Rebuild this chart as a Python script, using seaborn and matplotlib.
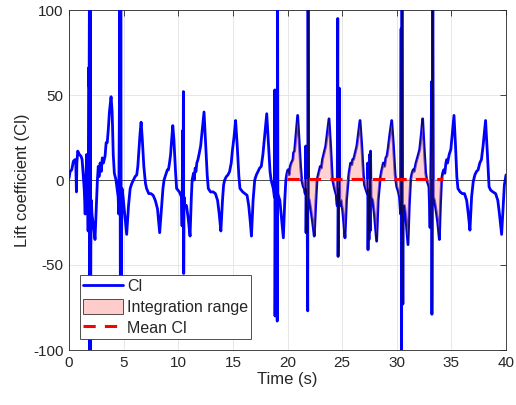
import numpy as np
import pandas as pd
import matplotlib
matplotlib.use("Agg")
import matplotlib.pyplot as plt
import seaborn as sns
from matplotlib.patches import Patch
from matplotlib.lines import Line2D

# ---- data ----
time_s = [
    0.0, 0.1, 0.25, 0.4, 0.55, 0.62, 0.68, 0.72, 0.8, 0.95, 1.1, 1.2, 1.3, 1.4, 1.48, 1.55, 1.62,
    1.7, 1.75, 1.8, 1.84, 1.88, 1.91, 1.94, 1.97, 2.0, 2.05, 2.1, 2.2, 2.3, 2.38, 2.5, 2.6, 2.68,
    2.75, 2.85, 2.95, 3.05, 3.15, 3.3, 3.4, 3.5, 3.6, 3.7, 3.85, 3.95, 4.05, 4.15, 4.3, 4.4, 4.5,
    4.55, 4.62, 4.66, 4.7, 4.74, 4.78, 4.85, 4.95, 5.1, 5.28,
    5.45, 5.6, 5.75, 5.9, 6.05, 6.2, 6.3, 6.4, 6.5, 6.6, 6.7, 6.85, 7.0, 7.1, 7.3, 7.5, 7.7, 7.9,
    8.1, 8.2, 8.3, 8.45, 8.6, 8.7, 8.85, 9.0, 9.1, 9.2, 9.3, 9.4, 9.5, 9.6, 9.75, 9.85, 10.1, 10.3,
    10.35, 10.4, 10.44, 10.47, 10.5, 10.53, 10.6, 10.75, 10.9, 11.08, 11.2, 11.27, 11.4, 11.45,
    11.55, 11.62, 11.7, 11.8, 11.9, 12.05, 12.2, 12.36, 12.5, 12.65, 12.75, 12.95, 13.2, 13.4,
    13.6, 13.75, 13.9, 14.05, 14.15, 14.25, 14.4, 14.55, 14.7, 14.85, 14.95, 15.1, 15.25, 15.4,
    15.55, 15.65, 15.9, 16.1, 16.3, 16.45, 16.6, 16.7, 16.85, 17.0, 17.15, 17.3, 17.45, 17.6,
    17.75, 17.9, 18.1, 18.25, 18.4, 18.5, 18.7, 18.8, 18.84, 18.86, 18.9, 18.95, 19.02, 19.06,
    19.09, 19.12, 19.2, 19.3, 19.45, 19.62, 19.75, 19.85, 19.95, 20.05, 20.15, 20.25, 20.35,
    20.5, 20.55, 20.65, 20.8, 20.93, 21.05, 21.2, 21.3, 21.45, 21.55, 21.62, 21.67, 21.7, 21.74,
    21.8, 21.85, 21.88, 21.92, 22.0, 22.15, 22.3, 22.45, 22.6, 22.7, 22.85, 23.0, 23.1, 23.2,
    23.35, 23.5, 23.65, 23.8, 23.95, 24.1, 24.3, 24.47, 24.55, 24.6, 24.63, 24.67, 24.72, 24.75,
    24.79, 24.9, 25.05, 25.15, 25.26, 25.4, 25.56, 25.65, 25.78, 25.9, 25.96, 26.05, 26.2, 26.35,
    26.5, 26.64, 26.8, 26.95, 27.05, 27.2, 27.3, 27.34, 27.37, 27.42, 27.46, 27.52, 27.56, 27.6,
    27.65, 27.8, 27.95, 28.05, 28.16, 28.3, 28.47, 28.6, 28.77, 28.9, 29.0, 29.1, 29.2, 29.35,
    29.54, 29.7, 29.85, 30.0, 30.15, 30.25, 30.35, 30.4, 30.44, 30.48, 30.52, 30.56, 30.6, 30.7,
    30.8, 30.9, 31.03, 31.15, 31.27, 31.4, 31.5, 31.6, 31.76, 31.85, 31.98, 32.1, 32.25, 32.37,
    32.5, 32.65, 32.75, 32.95, 33.05, 33.1, 33.2, 33.22, 33.25, 33.3, 33.35, 33.45, 33.6, 33.75,
    33.9, 34.0, 34.1, 34.2, 34.3, 34.4, 34.5, 34.57, 34.65, 34.8, 34.95, 35.1, 35.24, 35.38, 35.5,
    35.6, 35.8, 36.0, 36.2, 36.4, 36.55, 36.7, 36.85, 37.0, 37.15, 37.3, 37.45, 37.6, 37.75, 37.9,
    38.13, 38.3, 38.45, 38.6, 38.8, 39.05, 39.15, 39.25, 39.4, 39.6, 39.75, 39.85, 40.0,
]
lift_cl = [
    1, 5, 6, 11, 12, 10, -7, 10, 17, 15, 14, 12, 3, -6, -20, 2, 15,
    5, -30, 66, 55, 130, -130, 120, -130, -40, -12, -20, -25, -30, -35, -15, 0, 8,
    2, 10, 5, 13, 10, 14, 22, 22, 30, 40, 49, 40, 15, 4, 0, -5, -10,
    -20, 50, 130, -80, 130, -60, -5, -10, -20, -32,
    -15, -5, -2, 0, 2, 3, 8, 18, 27, 34, 25, 8, -2, -5, -8, -8, -9, -12,
    -17, -24, -31, -18, -5, 0, 3, 6, 6, 10, 15, 24, 32, 24, 5, -5, -7, -10,
    -27, 29, -20, 52, -55, -10, -15, -15, -22, -33, -10, 0, 4, 0,
    7, 5, 10, 12, 15, 20, 30, 40, 22, 3, -5, -7, -7, -8,
    -12, -20, -30, -12, -3, 0, 2, 3, 5, 10, 17, 25, 35, 20,
    2, -5, -7, -8, -9, -15, -25, -33, -12, 0, 3, 5, 7, 8,
    15, 25, 39, 22, 5, 0, -5, -10, 53, -80, -10, -20, 20, -83,
    130, -8, -10, -12, -22, -34, -12, 0, 4, 6, 3, 8, 10,
    12, 16, 17, 28, 38, 25, 8, 0, -4, -5, -8, 20, -31, -5,
    -20, -77, 130, -10, -12, -18, -25, -33, -12, 0, 4, 8, 7, 12,
    16, 20, 28, 36, 20, 1, -5, -9, -15, 95, -45, -5, -12, 54,
    -15, -12, -18, -25, -34, -12, 0, 5, 10, 9, 12, 12, 16, 20,
    28, 35, 20, 3, -3, -6, -8, 10, -41, -5, -35, 15, -30, 17,
    -10, -12, -20, -28, -36, -12, 0, 5, 10, 8, 13, 14, 18, 26,
    35, 20, 3, -4, -7, -10, -20, 89, -130, 130, -20, -73, -15, -15,
    -20, -28, -38, -15, 0, 4, 6, 5, 10, 12, 15, 18, 27, 36,
    20, 4, 0, -4, -28, -5, 58, -79, -5, 130, -10, -12, -18, -25,
    -35, -15, 0, 4, 6, 4, 10, 12, 10, 15, 18, 28, 38, 20, 2,
    -5, -7, -8, -8, -12, -20, -29.5, -10, -1, 3, 5, 6, 10, 12, 20,
    35, 15, -4, -6, -7, -8, -10, -12, -20, -32, -15, -3, 3,
]
integration_start = 19.95
integration_end = 34.2
mean_cl = 0.5

x_ticks = [0, 5, 10, 15, 20, 25, 30, 35, 40]
y_ticks = [-100, -50, 0, 50, 100]

df = pd.DataFrame({"Time (s)": time_s, "Cl": lift_cl})

# ---- style ----
sns.set_theme(style="whitegrid")
plt.rcParams["font.family"] = ["Liberation Sans", "DejaVu Sans"]
plt.rcParams.update({
    "xtick.direction": "in", "ytick.direction": "in",
    "xtick.top": True, "ytick.right": True,
    "xtick.major.size": 4, "ytick.major.size": 4,
    "xtick.major.width": 0.6, "ytick.major.width": 0.6,
    "xtick.color": "#262626", "ytick.color": "#262626",
    "xtick.labelsize": 11, "ytick.labelsize": 11,
})

fig = plt.figure(figsize=(5.16, 4.05), dpi=100)
ax = fig.add_axes([69 / 516, 55 / 405, 437 / 516, 340 / 405])

ax.axhline(0, color="#333333", lw=0.6, zorder=1)
sns.lineplot(data=df, x="Time (s)", y="Cl", ax=ax, color="#0000ff", lw=2.0,
             estimator=None, sort=False, zorder=3)

t = np.asarray(time_s)
c = np.asarray(lift_cl, dtype=float)
mask = (t >= integration_start) & (t <= integration_end)
ax.fill_between(t[mask], c[mask], mean_cl, facecolor=(1, 0.6, 0.6), alpha=0.45,
                edgecolor="none", zorder=4)
ax.plot(t[mask], c[mask], color="#000033", lw=0.5, alpha=0.85, zorder=5)
ax.plot([integration_start, integration_end], [mean_cl, mean_cl], color="#ff0000",
        lw=2.2, ls=(0, (4, 3)), zorder=6)

ax.set_xlim(0, 40)
ax.set_ylim(-100, 100)
ax.set_xticks(x_ticks)
ax.set_yticks(y_ticks)
ax.set_xticklabels([str(v) for v in x_ticks])
ax.set_yticklabels([str(v) for v in y_ticks])
ax.grid(True, color="#e3e3e3", lw=0.6)
for s in ax.spines.values():
    s.set_color("#262626")
    s.set_linewidth(0.6)
ax.set_xlabel("Time (s)", fontsize=12, color="#262626", labelpad=2)
ax.set_ylabel("Lift coefficient (Cl)", fontsize=12, color="#262626", labelpad=2)
ax.tick_params(pad=4)

handles = [
    Line2D([], [], color="#0000ff", lw=2.0),
    Patch(facecolor="#ffcccc", edgecolor="#333333", lw=0.6),
    Line2D([], [], color="#ff0000", lw=2.2, ls=(0, (4, 3))),
]
leg = ax.legend(handles, ["Cl", "Integration range", "Mean Cl"], loc="lower left",
                bbox_to_anchor=(0.025, 0.032), borderaxespad=0, fontsize=11.5,
                frameon=True, fancybox=False, framealpha=1, edgecolor="#333333",
                handlelength=2.5, handleheight=1.1, handletextpad=0.25, labelspacing=0.3,
                borderpad=0.2)
leg.get_frame().set_linewidth(0.6)
leg.set_zorder(10)

fig.savefig("out.png", dpi=100)
